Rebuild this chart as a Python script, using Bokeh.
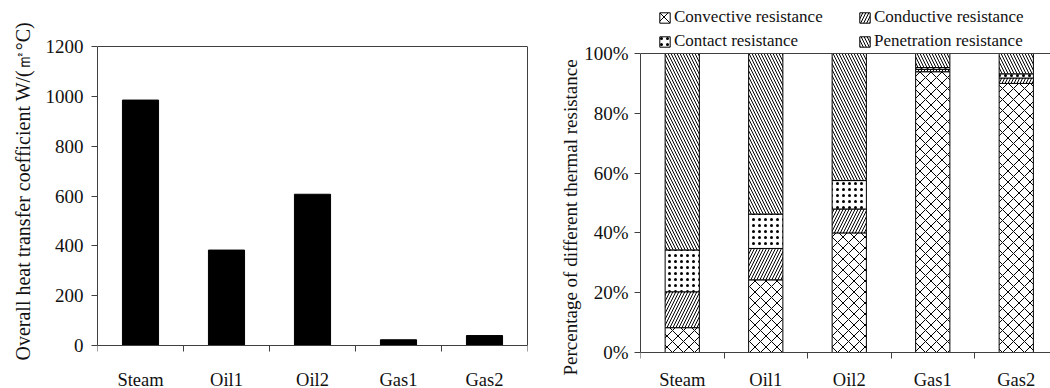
from bokeh.plotting import figure
from bokeh.models import (ColumnDataSource, FixedTicker, Range1d, Span, Legend,
                          LegendItem, LinearAxis, Title)
from bokeh.layouts import row
from bokeh.embed import file_html
from bokeh.resources import INLINE

# ---------------- data ----------------
categories = ["Steam", "Oil1", "Oil2", "Gas1", "Gas2"]
overall_u = [985, 383, 607, 23, 40]          # W/(m2 C)

convective = [8.3, 24.3, 40.0, 93.9, 90.0]   # % (bottom, cross hatch)
conductive = [12.0, 10.5, 8.0, 0.8, 1.8]     # % (/ lines)
contact = [14.0, 11.5, 9.5, 0.6, 1.4]        # % (dots)
penetration = [65.7, 53.7, 42.5, 4.7, 6.8]   # % (\ lines, top)

series_names = ["Convective resistance", "Conductive resistance",
                "Contact resistance", "Penetration resistance"]
u_ticks = [0, 200, 400, 600, 800, 1000, 1200]
pct_ticks = [0, 20, 40, 60, 80, 100]
left_title = "Overall heat transfer coefficient W/(\u33a1\u00b0C)"
right_title = "Percentage of different thermal resistance"

FONT = "Liberation Serif"
TXT = "#111111"
AX = "#404040"
H = 388

xs = list(range(len(categories)))
labels = {i: c for i, c in enumerate(categories)}
bounds = [i - 0.5 for i in range(len(categories) + 1)]


def style_axes(p, xstandoff, ystandoff):
    for ax in p.xaxis:
        ax.ticker = FixedTicker(ticks=xs, minor_ticks=bounds)
        ax.major_label_overrides = labels
        ax.major_tick_out = 0
        ax.major_tick_in = 0
        ax.minor_tick_out = 6
        ax.minor_tick_in = 0
        ax.minor_tick_line_color = AX
        ax.axis_line_color = AX
        ax.major_label_standoff = xstandoff
        ax.fixed_location = 0
        ax.major_label_text_font_size = "18.5px"
    for ax in p.yaxis:
        ax.major_tick_out = 6
        ax.major_tick_in = 0
        ax.minor_tick_line_color = None
        ax.axis_line_color = AX
        ax.major_tick_line_color = AX
        ax.major_label_standoff = ystandoff
        ax.major_label_text_font_size = "19px"
    for ax in p.xaxis + p.yaxis:
        ax.major_label_text_font = FONT
        ax.major_label_text_color = TXT
    p.grid.visible = False


def side_title(p, text, size, offset, standoff):
    p.add_layout(Title(text=text, align="left", vertical_align="bottom",
                       offset=offset, standoff=standoff, text_font=FONT,
                       text_font_size=size, text_font_style="normal",
                       text_color=TXT), "left")


# ---------------- left chart ----------------
# frame fills the whole height; value 0 at y=345 px, 1200 at y=46 px
u_px = 299 / 1200.0
src1 = ColumnDataSource(dict(x=xs, u=overall_u))
p1 = figure(width=540, height=H, output_backend="svg", toolbar_location=None,
            x_range=Range1d(-0.5, 4.5),
            y_range=Range1d(-(H - 345) / u_px, 1200 + 46 / u_px),
            min_border_left=96, min_border_right=13, min_border_top=0,
            min_border_bottom=0)
p1.outline_line_color = None
p1.vbar(x="x", top="u", width=0.42, source=src1, fill_color="black", line_color="black")
p1.yaxis.ticker = FixedTicker(ticks=u_ticks)
p1.yaxis.bounds = (0, 1200)
style_axes(p1, 18, 8)
side_title(p1, left_title, "20px", 28, 18)
# box: top line and right side
p1.add_layout(Span(location=1200, dimension="width", line_color=AX, line_width=1))
rax = LinearAxis(ticker=FixedTicker(ticks=[]), bounds=(0, 1200), axis_line_color=AX,
                 major_tick_line_color=None, minor_tick_line_color=None,
                 major_label_text_color=None)
p1.add_layout(rax, "right")

# ---------------- right chart ----------------
# value 0 % at y=352 px, 100 % at y=53 px
p_px = 299 / 100.0
src2 = ColumnDataSource(dict(x=xs, conv=convective, cond=conductive,
                             cont=contact, pen=penetration))
p2 = figure(width=510, height=H, output_backend="svg", toolbar_location=None,
            x_range=Range1d(-0.5, 4.41),
            y_range=Range1d(-(H - 352) / p_px, 100 + 53 / p_px),
            min_border_left=100, min_border_right=0, min_border_top=0,
            min_border_bottom=0)
p2.outline_line_color = None
rs = p2.vbar_stack(["conv", "cond", "cont", "pen"], x="x", width=0.41, source=src2,
                   fill_color="white", line_color="black", line_width=1,
                   hatch_color="black",
                   hatch_pattern=["diagonal_cross", "right_diagonal_line", "dot", "left_diagonal_line"],
                   hatch_scale=[11, 6, 6, 6],
                   hatch_weight=[1, 1, 0.5, 1])
p2.add_layout(Span(location=100, dimension="width", line_color=AX, line_width=1))
p2.yaxis.ticker = FixedTicker(ticks=pct_ticks)
p2.yaxis.bounds = (0, 100)
p2.yaxis.major_label_overrides = {t: f"{t}%" for t in pct_ticks}
style_axes(p2, 11, 6)
side_title(p2, right_title, "19px", 13, 2)


def make_legend(items, loc):
    lg = Legend(items=items, location=loc, orientation="horizontal",
                glyph_width=13, glyph_height=13, label_standoff=3,
                label_width=184, label_height=18, spacing=0, padding=0, margin=0,
                border_line_color=None, background_fill_alpha=0,
                label_text_font=FONT, label_text_font_size="17px",
                label_text_color=TXT)
    return lg


lg1 = make_legend([LegendItem(label=series_names[0], renderers=[rs[0]]),
                   LegendItem(label=series_names[1], renderers=[rs[1]])], (18, H - 27))
lg2 = make_legend([LegendItem(label=series_names[2], renderers=[rs[2]]),
                   LegendItem(label=series_names[3], renderers=[rs[3]])], (18, H - 51))
p2.add_layout(lg1)
p2.add_layout(lg2)

layout = row(p1, p2, spacing=0)
open("out.html", "w").write(file_html(layout, INLINE))
